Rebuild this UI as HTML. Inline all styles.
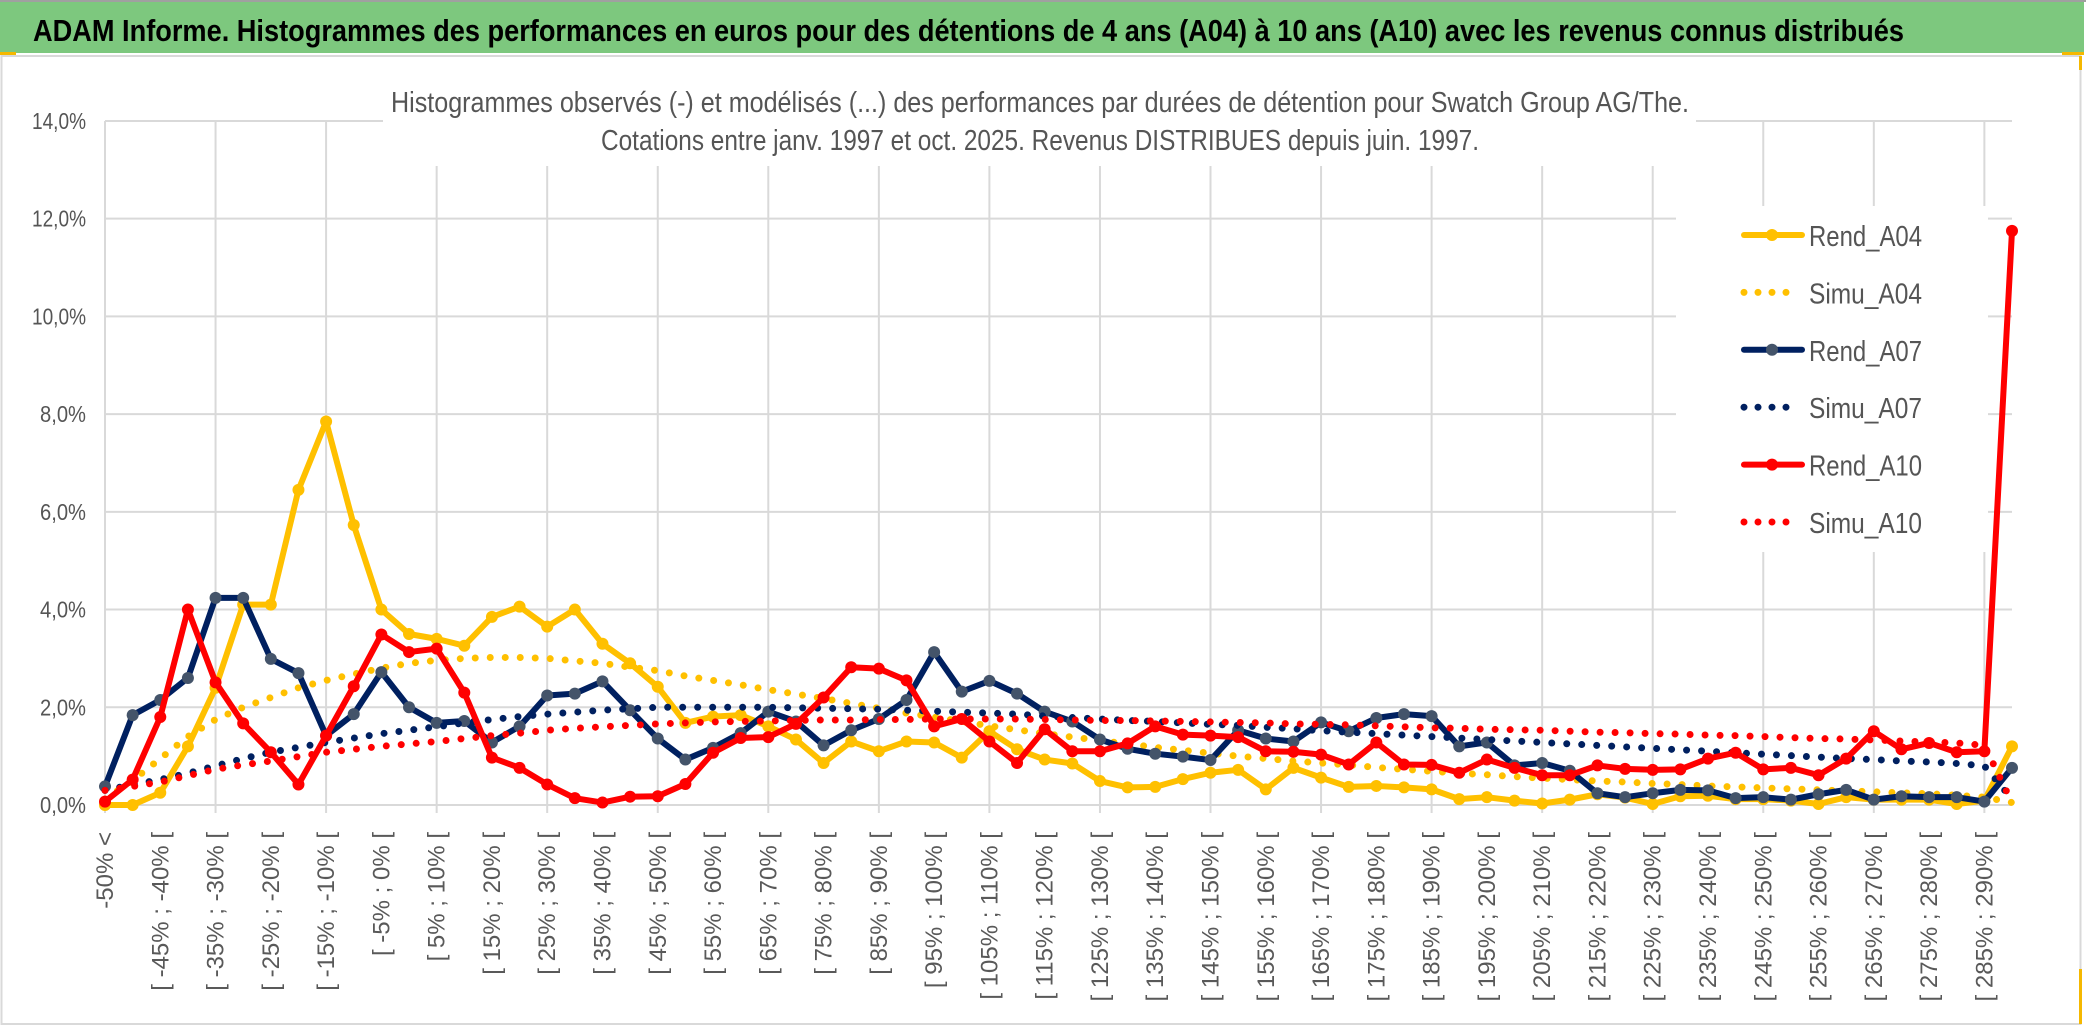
<!DOCTYPE html>
<html><head><meta charset="utf-8"><title>ADAM Informe - Swatch Group</title>
<style>
html,body{margin:0;padding:0;background:#fff;}
svg{display:block;}
text{font-family:"Liberation Sans",sans-serif;}
</style></head>
<body>
<svg id="chart" width="2086" height="1033" viewBox="0 0 2086 1033" xmlns="http://www.w3.org/2000/svg">
  <rect x="0" y="0" width="2086" height="1033" fill="#fff"/>
  <line x1="0" y1="1" x2="2086" y2="1" stroke="#a0a0a0" stroke-width="2"/>
  <rect x="0" y="2" width="2084" height="51" fill="#7dc87e"/>
  <text x="33" y="41" font-size="31" font-weight="bold" fill="#000" textLength="1871" lengthAdjust="spacingAndGlyphs">ADAM Informe. Histogrammes des performances en euros pour des détentions de 4 ans (A04) à 10 ans (A10) avec les revenus connus distribués</text>
  <rect x="0" y="52" width="16" height="3" fill="#f5b800"/>
  <rect x="2062" y="52" width="22" height="3" fill="#f5b800"/>
  <rect x="1.5" y="56" width="2079" height="968" fill="none" stroke="#d9d9d9" stroke-width="2"/>
  <rect x="2079" y="56" width="3" height="14" fill="#f5b800"/>
  <rect x="2079" y="969" width="3" height="55" fill="#f5b800"/>
  <g id="grid"></g>
  <g id="yaxis"></g>
  <g id="xaxis"></g>
  <rect x="383" y="104" width="1313" height="62" fill="#fff"/>
  <text x="1040" y="112" font-size="29" fill="#555" text-anchor="middle" textLength="1298" lengthAdjust="spacingAndGlyphs">Histogrammes observés (-) et modélisés (...) des performances par durées de détention pour Swatch Group AG/The.</text>
  <text x="1040" y="150" font-size="29" fill="#555" text-anchor="middle" textLength="878" lengthAdjust="spacingAndGlyphs">Cotations entre janv. 1997 et oct. 2025. Revenus DISTRIBUES depuis juin. 1997.</text>
  <rect x="1676" y="206" width="312" height="346" fill="#fff"/>
  <g id="series"></g>
  <g id="legend"></g>
</svg>
<script>
const categories = ["-50% <","[ -50% ; -45% [","[ -45% ; -40% [","[ -40% ; -35% [","[ -35% ; -30% [","[ -30% ; -25% [","[ -25% ; -20% [","[ -20% ; -15% [","[ -15% ; -10% [","[ -10% ; -5% [",
"[ -5% ; 0% [","[ 0% ; 5% [","[ 5% ; 10% [","[ 10% ; 15% [","[ 15% ; 20% [","[ 20% ; 25% [","[ 25% ; 30% [","[ 30% ; 35% [","[ 35% ; 40% [","[ 40% ; 45% [",
"[ 45% ; 50% [","[ 50% ; 55% [","[ 55% ; 60% [","[ 60% ; 65% [","[ 65% ; 70% [","[ 70% ; 75% [","[ 75% ; 80% [","[ 80% ; 85% [","[ 85% ; 90% [","[ 90% ; 95% [",
"[ 95% ; 100% [","[ 100% ; 105% [","[ 105% ; 110% [","[ 110% ; 115% [","[ 115% ; 120% [","[ 120% ; 125% [","[ 125% ; 130% [","[ 130% ; 135% [","[ 135% ; 140% [","[ 140% ; 145% [",
"[ 145% ; 150% [","[ 150% ; 155% [","[ 155% ; 160% [","[ 160% ; 165% [","[ 165% ; 170% [","[ 170% ; 175% [","[ 175% ; 180% [","[ 180% ; 185% [","[ 185% ; 190% [","[ 190% ; 195% [",
"[ 195% ; 200% [","[ 200% ; 205% [","[ 205% ; 210% [","[ 210% ; 215% [","[ 215% ; 220% [","[ 220% ; 225% [","[ 225% ; 230% [","[ 230% ; 235% [","[ 235% ; 240% [","[ 240% ; 245% [",
"[ 245% ; 250% [","[ 250% ; 255% [","[ 255% ; 260% [","[ 260% ; 265% [","[ 265% ; 270% [","[ 270% ; 275% [","[ 275% ; 280% [","[ 280% ; 285% [","[ 285% ; 290% [","[ 290% ; 295% ["];
const yTicks = [0,2,4,6,8,10,12,14];
const yTickLabels = ["0,0%","2,0%","4,0%","6,0%","8,0%","10,0%","12,0%","14,0%"];
const rendA04 = [0.0,0.0,0.25,1.2,2.4,4.1,4.1,6.45,7.85,5.73,4.0,3.5,3.4,3.26,3.85,4.06,3.65,4.0,3.3,2.9,2.42,1.68,1.81,1.84,1.61,1.34,0.86,1.30,1.10,1.30,1.28,0.97,1.51,1.14,0.93,0.85,0.49,0.36,0.37,0.53,0.66,0.72,0.32,0.76,0.56,0.37,0.39,0.36,0.32,0.12,0.16,0.09,0.03,0.11,0.22,0.15,0.02,0.18,0.19,0.12,0.12,0.09,0.02,0.16,0.11,0.11,0.11,0.02,0.09,1.2];
const simuA04 = [0.12,0.5,0.95,1.4,1.75,2.0,2.2,2.4,2.55,2.68,2.8,2.9,2.96,3.0,3.02,3.02,3.0,2.95,2.9,2.82,2.75,2.64,2.55,2.46,2.36,2.27,2.18,2.08,1.98,1.88,1.8,1.71,1.62,1.54,1.46,1.39,1.32,1.25,1.18,1.12,1.06,1.0,0.95,0.9,0.86,0.82,0.77,0.73,0.69,0.65,0.62,0.58,0.55,0.52,0.49,0.47,0.44,0.42,0.39,0.37,0.35,0.33,0.31,0.29,0.27,0.25,0.23,0.2,0.16,0.05];
const rendA07 = [0.38,1.84,2.15,2.6,4.24,4.24,2.99,2.7,1.42,1.86,2.72,2.0,1.68,1.72,1.28,1.61,2.24,2.28,2.53,1.94,1.36,0.93,1.17,1.47,1.91,1.71,1.22,1.53,1.76,2.15,3.13,2.32,2.54,2.28,1.91,1.71,1.34,1.15,1.05,0.99,0.92,1.53,1.36,1.30,1.69,1.51,1.78,1.86,1.82,1.20,1.28,0.81,0.86,0.70,0.24,0.16,0.24,0.31,0.30,0.14,0.16,0.11,0.22,0.31,0.11,0.18,0.16,0.16,0.07,0.76];
const simuA07 = [0.3,0.42,0.52,0.65,0.8,0.95,1.08,1.18,1.28,1.37,1.46,1.53,1.6,1.68,1.75,1.81,1.86,1.9,1.94,1.97,2.0,2.0,2.0,2.0,2.0,1.99,1.98,1.97,1.96,1.94,1.92,1.9,1.88,1.86,1.82,1.79,1.76,1.73,1.71,1.68,1.65,1.63,1.59,1.56,1.52,1.49,1.46,1.43,1.4,1.37,1.34,1.31,1.28,1.25,1.22,1.19,1.16,1.13,1.1,1.07,1.04,1.01,0.98,0.95,0.93,0.9,0.88,0.85,0.8,0.12];
const rendA10 = [0.07,0.52,1.8,4.0,2.51,1.67,1.08,0.42,1.42,2.43,3.49,3.13,3.2,2.3,0.97,0.76,0.42,0.14,0.05,0.17,0.18,0.43,1.07,1.37,1.39,1.66,2.2,2.82,2.79,2.55,1.61,1.76,1.30,0.86,1.55,1.10,1.10,1.26,1.61,1.44,1.42,1.39,1.10,1.09,1.03,0.83,1.28,0.83,0.82,0.66,0.93,0.76,0.61,0.61,0.81,0.74,0.72,0.73,0.95,1.07,0.73,0.76,0.61,0.95,1.51,1.14,1.27,1.08,1.10,11.75];
const simuA10 = [0.3,0.38,0.47,0.6,0.73,0.82,0.9,0.99,1.08,1.14,1.2,1.25,1.3,1.36,1.42,1.47,1.53,1.57,1.6,1.63,1.66,1.68,1.7,1.71,1.72,1.73,1.74,1.74,1.75,1.75,1.76,1.76,1.76,1.76,1.75,1.74,1.73,1.73,1.72,1.71,1.7,1.69,1.68,1.66,1.65,1.64,1.62,1.6,1.58,1.57,1.55,1.54,1.53,1.51,1.49,1.48,1.46,1.45,1.43,1.42,1.4,1.38,1.36,1.35,1.33,1.31,1.29,1.27,1.22,0.05];
const seriesNames = ["Rend_A04","Simu_A04","Rend_A07","Simu_A07","Rend_A10","Simu_A10"];

const NS = "http://www.w3.org/2000/svg";
const PL = 105, PR = 2012, Y0 = 805, PER = 48.86;
function xScale(i){ return PL + i * (PR - PL) / (categories.length - 1); }
function yScale(v){ return Y0 - v * PER; }
function mk(tag, attrs, parent){ const e = document.createElementNS(NS, tag); for (const k in attrs) e.setAttribute(k, attrs[k]); parent.appendChild(e); return e; }

const grid = document.getElementById('grid');
yTicks.forEach((t) => {
  const l = mk('line', {x1: PL, x2: PR, y1: yScale(t), y2: yScale(t), stroke: '#d9d9d9', 'stroke-width': 2}, grid);
  
  
});
for (let i = 0; i < categories.length; i += 4) {
  const l = mk('line', {x1: xScale(i), x2: xScale(i), y1: yScale(14), y2: Y0 + 8, stroke: '#d9d9d9', 'stroke-width': 2}, grid);
  
  
}

const yax = document.getElementById('yaxis');
yTicks.forEach((t, k) => {
  const tx = mk('text', {x: 86, y: yScale(t) + 8, 'font-size': 23, fill: '#555', 'text-anchor': 'end', textLength: t >= 10 ? 54 : 46, lengthAdjust: 'spacingAndGlyphs'}, yax);
  tx.textContent = yTickLabels[k];
  
  
});

const xax = document.getElementById('xaxis');
categories.forEach((c, i) => {
  if (i % 2 !== 0) return;
  const x = xScale(i) + 8, y = 832;
  const tx = mk('text', {x: x, y: y, 'font-size': 24, fill: '#595959', 'text-anchor': 'end', transform: 'rotate(-90 ' + x + ' ' + y + ')'}, xax);
  tx.textContent = c;
  
  
});

const sg = document.getElementById('series');
function pathD(arr){ return arr.map((v, i) => (i ? 'L' : 'M') + xScale(i).toFixed(2) + ' ' + yScale(v).toFixed(2)).join(' '); }
function solidSeries(arr, color, mcolor, name){
  const g = mk('g', {}, sg);
  
  
  const p = mk('path', {d: pathD(arr), fill: 'none', stroke: color, 'stroke-width': 6, 'stroke-linejoin': 'round', 'stroke-linecap': 'round'}, g);
  
  
  arr.forEach((v, i) => {
    const c = mk('circle', {cx: xScale(i), cy: yScale(v), r: 6, fill: mcolor}, g);
    
    
  });
}
function dotSeries(arr, color, name){
  const p = mk('path', {d: pathD(arr), fill: 'none', stroke: color, 'stroke-width': 7, 'stroke-linecap': 'round', 'stroke-dasharray': '0 15'}, sg);
  
  
}
solidSeries(rendA04, '#ffc000', '#ffc000', 'rend-a04-series');
dotSeries(simuA04, '#ffc000', 'simu-a04-series');
solidSeries(rendA07, '#002060', '#44546a', 'rend-a07-series');
dotSeries(simuA07, '#002060', 'simu-a07-series');
solidSeries(rendA10, '#ff0000', '#ff0000', 'rend-a10-series');
dotSeries(simuA10, '#ff0000', 'simu-a10-series');

const lg = document.getElementById('legend');
const lcolors = ['#ffc000','#ffc000','#002060','#002060','#ff0000','#ff0000'];
const lmark = ['#ffc000',null,'#44546a',null,'#ff0000',null];
seriesNames.forEach((n, k) => {
  const y = 235 + k * 57.4;
  const g = mk('g', {}, lg);
  
  
  if (lmark[k]) {
    mk('line', {x1: 1744, x2: 1802, y1: y, y2: y, stroke: lcolors[k], 'stroke-width': 6, 'stroke-linecap': 'round'}, g);
    mk('circle', {cx: 1772, cy: y, r: 6, fill: lmark[k]}, g);
  } else {
    mk('line', {x1: 1744, x2: (k === 5 ? 1800 : 1790), y1: y, y2: y, stroke: lcolors[k], 'stroke-width': 7, 'stroke-linecap': 'round', 'stroke-dasharray': '0 14'}, g);
  }
  const t = mk('text', {x: 1809, y: y + 11, 'font-size': 29, fill: '#555', textLength: 113, lengthAdjust: 'spacingAndGlyphs'}, g);
  t.textContent = n;
});
</script>
</body></html>
